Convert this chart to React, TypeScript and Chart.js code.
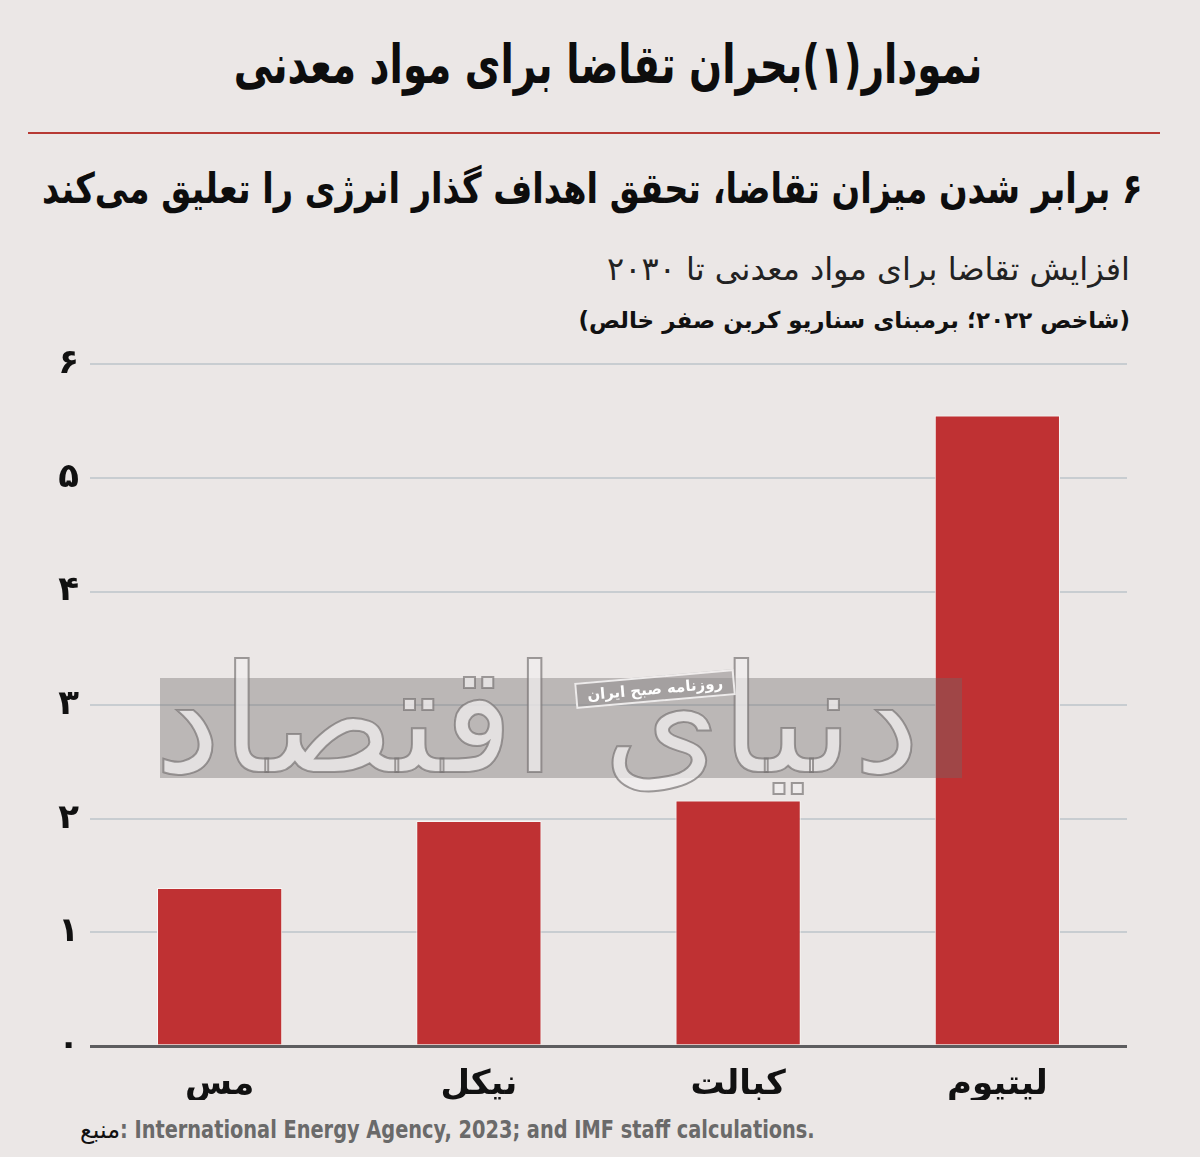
import React, { useEffect, useRef } from "react";
import { Chart, registerables } from "chart.js";

Chart.register(...registerables);

const categories = ["مس", "نیکل", "کبالت", "لیتیوم"];
const demandIndex = [1.39, 1.98, 2.16, 5.55];
const yTicks = [0, 1, 2, 3, 4, 5, 6];
const persianDigits = ["۰", "۱", "۲", "۳", "۴", "۵", "۶", "۷", "۸", "۹"];

const titleText = "نمودار(۱)بحران تقاضا برای مواد معدنی";
const headlineText = "۶ برابر شدن میزان تقاضا، تحقق اهداف گذار انرژی را تعلیق می‌کند";
const chartSubtitle = "افزایش تقاضا برای مواد معدنی تا ۲۰۳۰";
const chartNote = "(شاخص ۲۰۲۲؛ برمبنای سناریو کربن صفر خالص)";
const sourceLabel = "منبع";
const sourceText = ": International Energy Agency, 2023; and IMF staff calculations.";

const BG = "#ebe7e6";
const BAR = "#bf3133";
const FA = "'DejaVu Sans', 'Noto Sans', sans-serif";

const toPersian = (n: number) =>
  String(n).replace(/[0-9]/g, (d) => persianDigits[Number(d)]);

export default function App() {
  const ref = useRef<HTMLCanvasElement | null>(null);

  useEffect(() => {
    document.body.style.margin = "0";
    document.body.style.background = BG;
    const ctx = ref.current!.getContext("2d")!;
    const chart = new Chart(ctx, {
      type: "bar",
      data: {
        labels: categories,
        datasets: [
          {
            data: demandIndex,
            backgroundColor: BAR,
            borderColor: "#f8f5f4",
            borderWidth: 1,
            barPercentage: 0.483,
            categoryPercentage: 1,
          },
        ],
      },
      options: {
        animation: false,
        responsive: false,
        maintainAspectRatio: false,
        layout: { padding: { left: 0, right: 73, top: 25, bottom: 0 } },
        plugins: { legend: { display: false }, tooltip: { enabled: false } },
        scales: {
          x: {
            grid: { display: false },
            border: { display: false },
            ticks: {
              color: "#111",
              font: { family: FA, size: 34, weight: "bold" },
              padding: 11,
            },
            afterFit: (s: any) => {
              s.height = 54;
            },
          },
          y: {
            min: 0,
            max: 6,
            afterBuildTicks: (s: any) => {
              s.ticks = yTicks.map((v) => ({ value: v }));
            },
            afterFit: (s: any) => {
              s.width = 90;
            },
            border: { display: false },
            grid: {
              drawTicks: false,
              color: (c: any) => (c.tick && c.tick.value === 0 ? "#5d5d5f" : "#c8cdd1"),
              lineWidth: (c: any) => (c.tick && c.tick.value === 0 ? 3 : 2),
            },
            ticks: {
              color: "#111",
              font: { family: FA, size: 34, weight: "bold" },
              padding: 11,
              callback: (v: any) => toPersian(Number(v)),
            },
          },
        },
      },
    });
    return () => chart.destroy();
  }, []);

  return (
    <div
      style={{
        position: "absolute",
        left: 0,
        top: 0,
        width: 1200,
        height: 1157,
        background: BG,
        overflow: "hidden",
        fontFamily: FA,
      }}
    >
      <div
        dir="rtl"
        style={{
          position: "absolute",
          left: 0,
          width: 1216,
          top: 28,
          textAlign: "center",
          fontSize: 54,
          fontWeight: 900,
          color: "#0d0d0d",
          lineHeight: "74px",
          transform: "scaleX(0.72)",
          transformOrigin: "608px 0",
        }}
      >
        {titleText}
      </div>
      <div
        style={{
          position: "absolute",
          left: 28,
          top: 132,
          width: 1132,
          height: 2,
          background: "#b73a34",
        }}
      />
      <div
        dir="rtl"
        style={{
          position: "absolute",
          right: 57,
          top: 158,
          whiteSpace: "nowrap",
          fontSize: 42,
          fontWeight: 900,
          color: "#0d0d0d",
          lineHeight: "62px",
          transform: "scaleX(0.8)",
          transformOrigin: "right top",
        }}
      >
        {headlineText}
      </div>
      <div
        dir="rtl"
        style={{
          position: "absolute",
          right: 70,
          top: 246,
          whiteSpace: "nowrap",
          fontSize: 32,
          color: "#222",
          lineHeight: "46px",
        }}
      >
        {chartSubtitle}
      </div>
      <div
        dir="rtl"
        style={{
          position: "absolute",
          right: 70,
          top: 302,
          whiteSpace: "nowrap",
          fontSize: 23,
          fontWeight: 700,
          color: "#111",
          lineHeight: "36px",
        }}
      >
        {chartNote}
      </div>
      <canvas
        ref={ref}
        width={1200}
        height={767}
        style={{ position: "absolute", left: 0, top: 333, width: 1200, height: 767 }}
      />
      <div
        style={{
          position: "absolute",
          left: 160,
          top: 678,
          width: 802,
          height: 100,
          background: "rgba(110,104,104,0.38)",
          pointerEvents: "none",
        }}
      />
      <div
        dir="rtl"
        style={{
          position: "absolute",
          left: 200,
          top: 620,
          width: 720,
          textAlign: "center",
          fontSize: 150,
          lineHeight: "200px",
          color: "rgba(240,238,238,0.75)",
          WebkitTextStroke: "2px rgba(120,115,115,0.7)",
          pointerEvents: "none",
          whiteSpace: "nowrap",
        }}
      >
        دنیای اقتصاد
      </div>
      <div
        dir="rtl"
        style={{
          position: "absolute",
          left: 575,
          top: 676,
          padding: "2px 10px",
          border: "2px solid rgba(245,243,243,0.9)",
          background: "rgba(150,145,145,0.6)",
          color: "#fff",
          fontSize: 15,
          fontWeight: 700,
          transform: "rotate(-5deg)",
          whiteSpace: "nowrap",
        }}
      >
        روزنامه صبح ایران
      </div>
      <div
        style={{
          position: "absolute",
          left: 80,
          top: 1112,
          whiteSpace: "nowrap",
          lineHeight: "36px",
        }}
      >
        <span style={{ fontSize: 24, color: "#111", fontFamily: FA }}>{sourceLabel}</span>
        <span
          style={{
            display: "inline-block",
            fontSize: 25,
            color: "#6a6a6a",
            fontWeight: 700,
            fontFamily: "'Liberation Sans Narrow', 'DejaVu Sans Condensed', sans-serif",
            transform: "scaleX(0.86)",
            transformOrigin: "left center",
          }}
        >
          {sourceText}
        </span>
      </div>
    </div>
  );
}
